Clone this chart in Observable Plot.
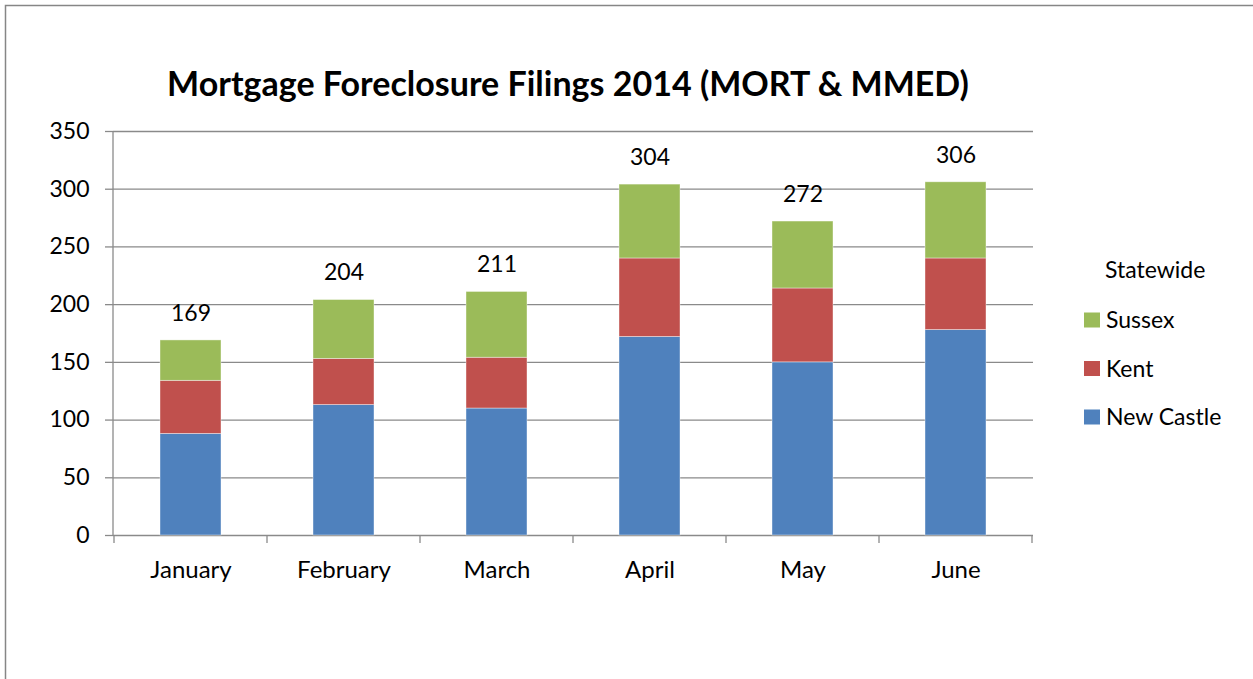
<!DOCTYPE html>
<html>
<head>
<meta charset="utf-8">
<script src="https://cdn.jsdelivr.net/npm/d3@7"></script>
<script src="https://cdn.jsdelivr.net/npm/@observablehq/plot@0.6"></script>
<style>
  html, body { margin: 0; padding: 0; background: #fff; }
  #chart { width: 1253px; height: 679px; }
</style>
</head>
<body>
<div id="chart"></div>
<script>
const months = ["January", "February", "March", "April", "May", "June"];
const newCastle = [88, 113, 110, 172, 150, 178];
const kent = [46, 40, 44, 68, 64, 62];
const sussex = [35, 51, 57, 64, 58, 66];
const totals = [169, 204, 211, 304, 272, 306];
const seriesNames = ["New Castle", "Kent", "Sussex"];
const seriesColors = ["#4F81BD", "#C0504D", "#9BBB59"];
const yTicks = [0, 50, 100, 150, 200, 250, 300, 350];
const chartTitle = "Mortgage Foreclosure Filings 2014 (MORT & MMED)";
const legendTitle = "Statewide";

const FONT = "Lato, 'Open Sans', sans-serif";
const GRID = "#8a8a8a";

const rows = [];
const seriesValues = [newCastle, kent, sussex];
months.forEach((m, i) => {
  seriesNames.forEach((s, j) => rows.push({month: m, series: s, value: seriesValues[j][i]}));
});
const totalRows = months.map((m, i) => ({month: m, total: totals[i]}));

const W = 1253, H = 679;
const mL = 113, mR = 220, mT = 131, mB = 144;

const chart = Plot.plot({
  width: W,
  height: H,
  marginLeft: mL,
  marginRight: mR,
  marginTop: mT,
  marginBottom: mB,
  style: {fontFamily: FONT, fontSize: "22px", color: "#000", background: "#fff", overflow: "visible"},
  x: {domain: months, paddingInner: 0.6, paddingOuter: 0.3, label: null},
  y: {domain: [0, 350], label: null},
  color: {domain: seriesNames, range: seriesColors},
  marks: [
    Plot.gridY(yTicks, {stroke: GRID, strokeOpacity: 1, strokeWidth: 1.3}),
    Plot.axisY(yTicks, {tickSize: 8, tickPadding: 16, stroke: GRID, strokeWidth: 1.3, fontSize: 23, label: null, fill: "#000"}),
    Plot.axisX({tickSize: 0, tickPadding: 25, fontSize: 24, label: null, fill: "#000"}),
    Plot.barY(rows, {x: "month", y: "value", fill: "series", order: seriesNames, stroke: "#fff", strokeOpacity: 0.5, strokeWidth: 0.8}),
    Plot.ruleX([0], {stroke: GRID}),
    Plot.text(totalRows, {x: "month", y: "total", text: d => String(d.total), dy: -27, fontSize: 23, fill: "#000"})
  ]
});

const svg = d3.select(chart);
const x = chart.scale("x");
const step = x.step;
const xs = months.map(m => x.apply(m) - (step - x.bandwidth) / 2);
xs.push(xs[xs.length - 1] + step);
const y0 = chart.scale("y").apply(0);
const yTop = chart.scale("y").apply(350);

// axes lines
svg.append("line").attr("x1", mL).attr("x2", mL).attr("y1", yTop).attr("y2", y0)
  .attr("stroke", GRID).attr("stroke-width", 1.3);
svg.selectAll("line.xtick").data(xs).join("line").attr("class", "xtick")
  .attr("x1", d => d).attr("x2", d => d).attr("y1", y0).attr("y2", y0 + 8)
  .attr("stroke", GRID).attr("stroke-width", 1.3);

// outer border
svg.append("path").attr("d", `M${W},5.5 H5.5 V${H}`).attr("fill", "none")
  .attr("stroke", "#868686").attr("stroke-width", 1.5);

// title
svg.append("text").attr("x", 568).attr("y", 96)
  .attr("text-anchor", "middle").attr("font-family", FONT).attr("font-weight", "bold")
  .attr("font-size", 34).attr("fill", "#000").text(chartTitle);

// legend
const lg = svg.append("g").attr("font-family", FONT).attr("font-size", 23).attr("fill", "#000")
  .attr("text-anchor", "start");
lg.append("text").attr("x", 1105).attr("y", 270).attr("dy", "0.36em").text(legendTitle);
const legendOrder = seriesNames.slice().reverse();
legendOrder.forEach((s, i) => {
  const cy = 320 + i * 48.5;
  lg.append("rect").attr("x", 1084).attr("y", cy - 7.5).attr("width", 16).attr("height", 15)
    .attr("fill", seriesColors[seriesNames.indexOf(s)]);
  lg.append("text").attr("x", 1106).attr("y", cy).attr("dy", "0.36em").text(s);
});

document.getElementById("chart").appendChild(chart);
</script>
</body>
</html>
